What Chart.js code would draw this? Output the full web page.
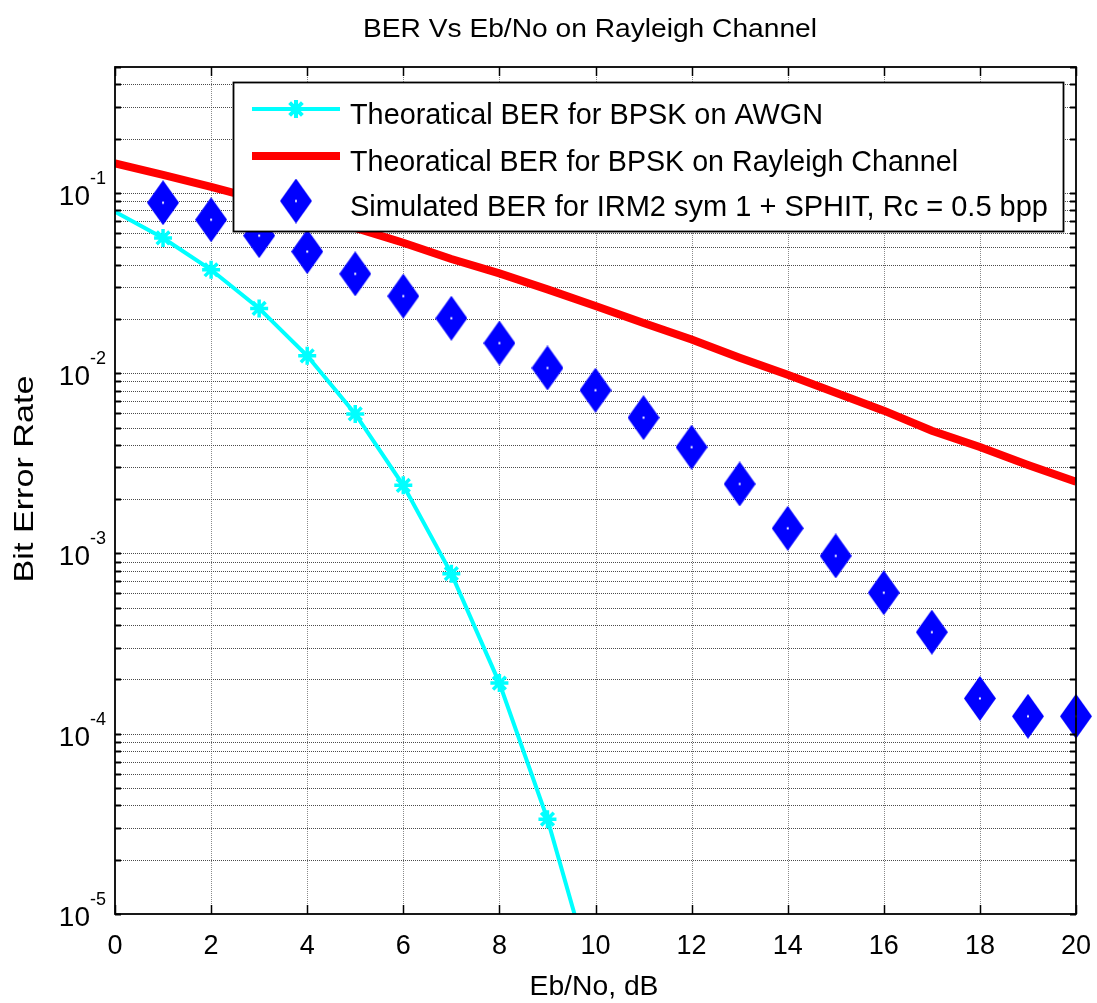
<!DOCTYPE html>
<html>
<head>
<meta charset="utf-8">
<title>BER Vs Eb/No on Rayleigh Channel</title>
<script src="https://cdn.jsdelivr.net/npm/chart.js@4.4.1/dist/chart.umd.min.js"></script>
<style>
  html, body { margin: 0; background: #fff; }
  canvas { display: block; }
</style>
</head>
<body>
<canvas id="berChart" width="1097" height="1003"></canvas>
<script>
// values
const ebNoAwgn = [0, 1, 2, 3, 4, 5, 6, 7, 8, 9, 10];
const berAwgn = [0.0786, 0.0563, 0.0375, 0.0229, 0.0125, 0.00595, 0.00239, 0.000773, 0.000191, 0.0000336, 0.0000039];

const ebNoRayleigh = [0, 1, 2, 3, 4, 5, 6, 7, 8, 9, 10, 11, 12, 13, 14, 15, 16, 17, 18, 19, 20];
const berRayleigh = [0.146, 0.126, 0.108, 0.092, 0.077, 0.064, 0.053, 0.043, 0.0358, 0.0292, 0.0236,
  0.0190, 0.0154, 0.0122, 0.0098, 0.0078, 0.0062, 0.0048, 0.0039, 0.0031, 0.0025];

const ebNoSim = [1, 2, 3, 4, 5, 6, 7, 8, 9, 10, 11, 12, 13, 14, 15, 16, 17, 18, 19, 20];
const berSim = [0.0883, 0.0711, 0.0580, 0.0473, 0.0356, 0.0268, 0.0202, 0.0147, 0.0107, 0.00805,
  0.00567, 0.00389, 0.00243, 0.00138, 0.00097, 0.000606, 0.000366, 0.000157, 0.000125, 0.000125];

const seriesNames = [
  "Theoratical BER for BPSK on AWGN",
  "Theoratical BER for BPSK on Rayleigh Channel",
  "Simulated BER for IRM2 sym 1 + SPHIT, Rc = 0.5 bpp"
];

const xTicks = [0, 2, 4, 6, 8, 10, 12, 14, 16, 18, 20];
const yDecades = [1e-5, 1e-4, 1e-3, 1e-2, 1e-1];
const yExponents = ["-5", "-4", "-3", "-2", "-1"];
const yMinorSteps = [2, 3, 4, 5, 6, 7, 8, 9];

const FONT = '"Liberation Sans", Arial, sans-serif';
const CYAN = "#00ffff", RED = "#ff0000", BLUE = "#0000ff";

// every tick on the log axis (1..9 x each decade, up to the 0.5 top)
const yGrid = [];
yDecades.forEach(d => {
  yGrid.push(d);
  yMinorSteps.forEach(m => { if (m * d <= 0.5 + 1e-12) yGrid.push(m * d); });
});

function pts(xs, ys) {
  return xs.map((x, i) => ({ x, y: ys[i] }));
}

// tall blue diamond with the small white dot MATLAB leaves in the middle
function diamond(w, h) {
  const c = document.createElement("canvas");
  c.width = w; c.height = h;
  const g = c.getContext("2d");
  g.fillStyle = BLUE;
  g.beginPath();
  g.moveTo(w / 2, 0); g.lineTo(w, h / 2); g.lineTo(w / 2, h); g.lineTo(0, h / 2);
  g.closePath(); g.fill();
  g.fillStyle = "#fff";
  g.fillRect(w / 2 - 1, h / 2 - 1, 2, 2);
  return c;
}
const diamondImg = diamond(32, 45);

function fitText(ctx, str, x, y, size, width, rot) {
  ctx.save();
  ctx.font = size + "px " + FONT;
  const w = ctx.measureText(str).width;
  ctx.translate(x, y);
  if (rot) ctx.rotate(rot);
  if (width) ctx.scale(width / w, 1);
  ctx.textAlign = "center";
  ctx.fillText(str, 0, 0);
  ctx.restore();
}

function seg(ctx, x1, y1, x2, y2) {
  ctx.beginPath(); ctx.moveTo(x1, y1); ctx.lineTo(x2, y2); ctx.stroke();
}

const matlabAxes = {
  id: "matlabAxes",
  beforeDatasetsDraw(chart) {
    const { ctx, chartArea: a, scales: { x, y } } = chart;
    ctx.save();
    ctx.lineWidth = 1;
    ctx.setLineDash([1, 1]);
    ctx.strokeStyle = "#8a8a8a";
    xTicks.forEach(v => {
      if (v === 0 || v === 20) return;
      const px = Math.round(x.getPixelForValue(v)) + 0.5;
      seg(ctx, px, a.top, px, a.bottom);
    });
    ctx.strokeStyle = "#4a4a4a";
    yGrid.forEach(v => {
      const py = Math.round(y.getPixelForValue(v)) + 0.5;
      if (py > a.bottom - 1 || py < a.top + 1) return;
      seg(ctx, a.left, py, a.right, py);
    });
    ctx.restore();
  },
  afterDatasetsDraw(chart) {
    const { ctx, chartArea: a, scales: { x, y } } = chart;
    ctx.save();
    ctx.strokeStyle = "#000";
    ctx.fillStyle = "#000";

    // inward ticks on all four sides
    ctx.lineWidth = 1.5;
    xTicks.forEach(v => {
      const px = Math.round(x.getPixelForValue(v)) + 0.5;
      seg(ctx, px, a.bottom, px, a.bottom - 9);
      seg(ctx, px, a.top, px, a.top + 9);
    });
    ctx.lineWidth = 2;
    yGrid.forEach(v => {
      const py = Math.round(y.getPixelForValue(v)) + 0.5;
      seg(ctx, a.left, py, a.left + 6, py);
      seg(ctx, a.right, py, a.right - 6, py);
    });

    // frame
    ctx.lineWidth = 1.8;
    ctx.strokeRect(a.left, a.top, a.right - a.left, a.bottom - a.top);

    // tick labels
    ctx.textBaseline = "alphabetic";
    ctx.font = "27px " + FONT;
    ctx.textAlign = "center";
    xTicks.forEach(v => ctx.fillText(String(v), x.getPixelForValue(v), 954));
    yDecades.forEach((d, i) => {
      const py = y.getPixelForValue(d);
      ctx.font = "28px " + FONT;
      ctx.textAlign = "right";
      ctx.fillText("10", 90, py + 12);
      ctx.font = "18px " + FONT;
      ctx.textAlign = "left";
      ctx.fillText(yExponents[i], 90, py - 9);
    });

    // title and axis titles
    fitText(ctx, "BER Vs Eb/No on Rayleigh Channel", 590, 37, 26.5, 454);
    fitText(ctx, "Eb/No, dB", 594, 995, 28, 129);
    ctx.textBaseline = "middle";
    fitText(ctx, "Bit Error Rate", 25, 479, 28, 207, -Math.PI / 2);

    // legend box
    const L = { left: 233.5, top: 82.5, right: 1063.5, bottom: 231.5 };
    ctx.fillStyle = "#fff";
    ctx.fillRect(L.left, L.top, L.right - L.left, L.bottom - L.top);
    ctx.lineWidth = 1.8;
    ctx.strokeRect(L.left, L.top, L.right - L.left, L.bottom - L.top);

    const rows = [109, 156, 201];
    ctx.lineCap = "butt";
    ctx.strokeStyle = CYAN; ctx.lineWidth = 4;
    seg(ctx, 252, rows[0], 340, rows[0]);
    Chart.helpers.drawPoint(ctx, { pointStyle: "star", radius: 9, borderWidth: 3.5 }, 296, rows[0]);
    ctx.strokeStyle = RED; ctx.lineWidth = 8;
    seg(ctx, 252, rows[1], 340, rows[1]);
    ctx.drawImage(diamondImg, 296 - diamondImg.width / 2, rows[2] - diamondImg.height / 2);

    ctx.fillStyle = "#000";
    ctx.textBaseline = "alphabetic";
    const textW = [473, 608, 698];
    seriesNames.forEach((s, i) => {
      ctx.save();
      ctx.font = "30px " + FONT;
      const w = ctx.measureText(s).width;
      ctx.translate(350, rows[i] + 15);
      ctx.scale(textW[i] / w, 1);
      ctx.textAlign = "left";
      ctx.fillText(s, 0, 0);
      ctx.restore();
    });
    ctx.restore();
  }
};

new Chart(document.getElementById("berChart"), {
  type: "line",
  data: {
    datasets: [
      {
        label: seriesNames[0],
        data: pts(ebNoAwgn, berAwgn),
        borderColor: CYAN,
        backgroundColor: CYAN,
        borderWidth: 4,
        pointStyle: "star",
        pointRadius: c => (c.dataIndex === 0 ? 0 : 9),
        pointBorderWidth: 3.5,
        pointBorderColor: CYAN,
        clip: 0
      },
      {
        label: seriesNames[1],
        data: pts(ebNoRayleigh, berRayleigh),
        borderColor: RED,
        backgroundColor: RED,
        borderWidth: 8,
        pointRadius: 0,
        clip: 0
      },
      {
        label: seriesNames[2],
        data: pts(ebNoSim, berSim),
        showLine: false,
        pointStyle: diamondImg,
        pointRadius: 16,
        clip: false
      }
    ]
  },
  options: {
    responsive: false,
    animation: false,
    devicePixelRatio: 1,
    layout: { padding: { left: 115, right: 21, top: 67, bottom: 89 } },
    elements: { line: { tension: 0 } },
    scales: {
      x: { type: "linear", min: 0, max: 20, display: false },
      y: { type: "logarithmic", min: 1e-5, max: 0.5, display: false }
    },
    plugins: {
      legend: { display: false },
      tooltip: { enabled: false }
    }
  },
  plugins: [matlabAxes]
});
</script>
</body>
</html>
